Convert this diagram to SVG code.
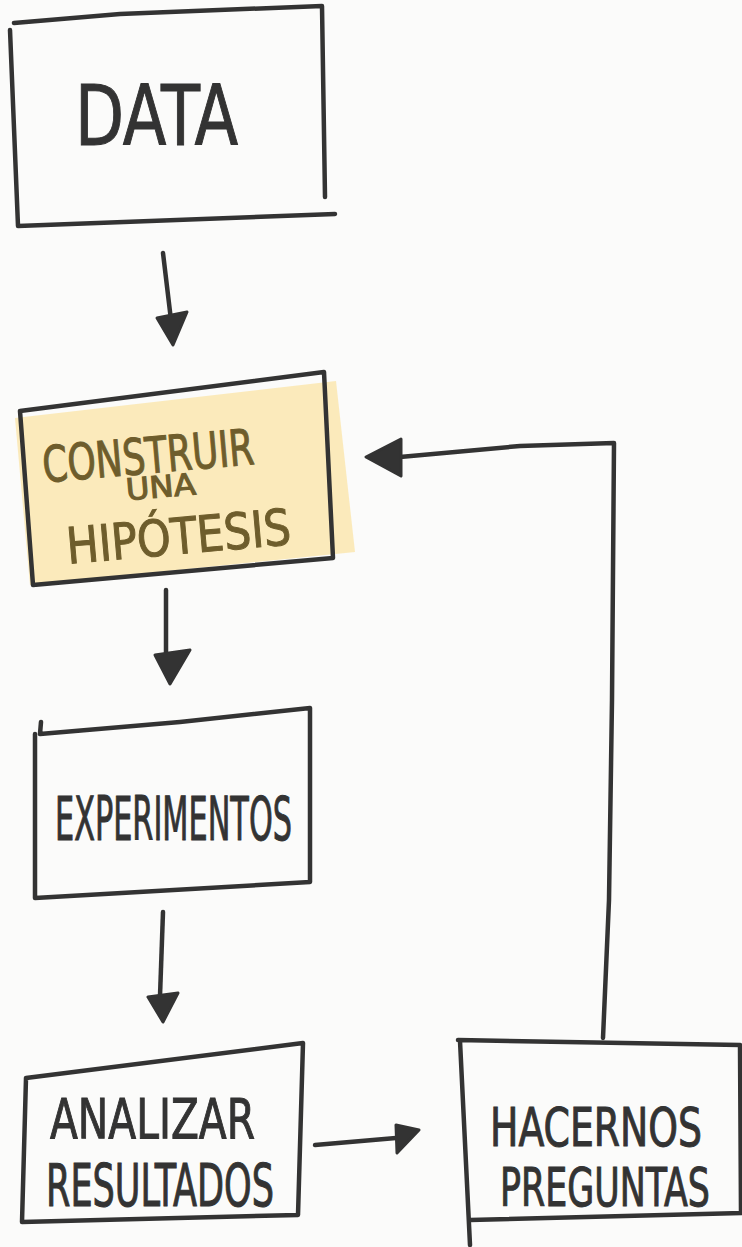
<svg xmlns="http://www.w3.org/2000/svg" width="742" height="1247" viewBox="0 0 742 1247">
<defs>
<style>
.ln{fill:none;stroke:#333;stroke-width:4.5;stroke-linecap:round;stroke-linejoin:round}
.hd{fill:#333;stroke:#333;stroke-width:3;stroke-linejoin:round}
.t{font-family:"DejaVu Sans Condensed","DejaVu Sans",sans-serif;fill:#333;stroke:#333;stroke-width:1}
.ty{font-family:"DejaVu Sans Condensed","DejaVu Sans",sans-serif;fill:#6e5d2c;stroke:#6e5d2c;stroke-width:1}
</style>
</defs>
<rect x="0" y="0" width="742" height="1247" fill="#fbfbfa"/>
<g id="node-data">
<path class="ln" d="M14 23 L120 14 L322 6 M10 30 L18 226 M322 6 L325 197 M18 226 L335 214"/>
<text class="t" x="75" y="145" font-size="84" textLength="163" lengthAdjust="spacingAndGlyphs">DATA</text>
</g>
<g id="node-hipotesis">
<polygon points="15,418 336,381 355,552 30,585" fill="#fbe8b4" opacity="0.9"/>
<path class="ln" d="M20 411 L324 372 L333 558 L33 585 L20 411"/>
<g transform="rotate(-5 165 490)">
<text class="ty" x="45" y="472" font-size="50" textLength="212" lengthAdjust="spacingAndGlyphs">CONSTRUIR</text>
<text class="ty" x="126" y="497" font-size="30" textLength="70" lengthAdjust="spacingAndGlyphs">UNA</text>
<text class="ty" x="62" y="555" font-size="50" textLength="225" lengthAdjust="spacingAndGlyphs">HIPÓTESIS</text>
</g>
</g>
<g id="node-experimentos">
<path class="ln" d="M41 722 L40 734 L180 722 L310 708 L310 882 L35 898 L35 734"/>
<text class="t" x="55" y="840" font-size="60" textLength="237" lengthAdjust="spacingAndGlyphs">EXPERIMENTOS</text>
</g>
<g id="node-analizar">
<path class="ln" d="M26 1078 L303 1043 L298 1215 L22 1222 L26 1078"/>
<text class="t" x="50" y="1138" font-size="56" textLength="205" lengthAdjust="spacingAndGlyphs">ANALIZAR</text>
<text class="t" x="46" y="1206" font-size="58" textLength="228" lengthAdjust="spacingAndGlyphs">RESULTADOS</text>
</g>
<g id="node-preguntas">
<path class="ln" d="M458 1040 L740 1045 M460 1041 L470 1245 M470 1220 L742 1213 M740 1045 L741 1213"/>
<text class="t" x="490" y="1146" font-size="54" textLength="212" lengthAdjust="spacingAndGlyphs">HACERNOS</text>
<text class="t" x="500" y="1206" font-size="54" textLength="210" lengthAdjust="spacingAndGlyphs">PREGUNTAS</text>
</g>
<g id="connectors">
<path class="ln" d="M163 253 L171 320"/>
<polygon class="hd" points="157,318 187,312 173,345"/>
<path class="ln" d="M166 590 L166 654"/>
<polygon class="hd" points="155,655 190,650 170,684"/>
<path class="ln" d="M163 912 L160 996"/>
<polygon class="hd" points="148,997 178,993 163,1022"/>
<path class="ln" d="M315 1145 L396 1138"/>
<polygon class="hd" points="396,1125 419,1130 397,1153"/>
<path class="ln" d="M603 1038 L609 900 L612 700 L614 443 L520 446 L400 457"/>
<polygon class="hd" points="401,439 366,457 401,476"/>
</g>
</svg>
